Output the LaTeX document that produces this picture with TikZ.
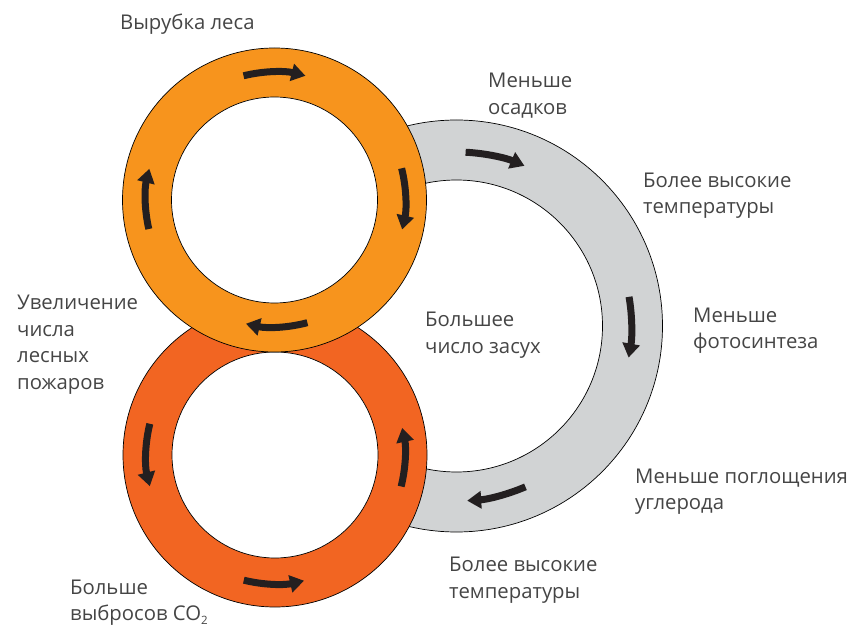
\documentclass[tikz,border=0pt]{standalone}
\usepackage{fontspec}
\setmainfont{Open Sans}
\usetikzlibrary{arrows.meta}
\definecolor{ringorange}{HTML}{F7941D}
\definecolor{ringred}{HTML}{F26522}
\definecolor{ringgray}{HTML}{D1D3D4}
\definecolor{txt}{HTML}{454545}
\definecolor{arr}{HTML}{231F20}
\begin{document}
\begin{tikzpicture}[x=1pt,y=1pt,
  ringline/.style={draw=black, line width=0.7pt},
  cyc/.style={draw=arr, line width=7pt, -{Triangle[width=17pt,length=14pt]}},
  lbl/.style={text=txt, font=\fontsize{20.3}{26.5}\selectfont, align=left, inner sep=0pt, anchor=base west}]
\useasboundingbox (0,0) rectangle (851,627);
\coordinate (G) at (456.5,301);
\coordinate (O) at (274.5,427);
\coordinate (R) at (275,172);
% gray ring
\fill[ringgray, even odd rule] (G) circle[radius=206pt] (G) circle[radius=146pt];
\draw[ringline] (G) circle[radius=206pt] (G) circle[radius=146pt];
% red ring
\filldraw[ringline, fill=ringred] (R) circle[radius=152pt];
\filldraw[ringline, fill=white] (R) circle[radius=103pt];
% orange ring
\filldraw[ringline, fill=ringorange] (O) circle[radius=152pt];
\filldraw[ringline, fill=white] (O) circle[radius=103pt];
% orange arrows (clockwise)
\draw[cyc] ([shift={(104:128pt)}]O) arc[start angle=104, end angle=76, radius=128pt];
\draw[cyc] ([shift={(14:131pt)}]O) arc[start angle=14, end angle=-13, radius=131pt];
\draw[cyc] ([shift={(-75:127pt)}]O) arc[start angle=-75, end angle=-103, radius=127pt];
\draw[cyc] ([shift={(193:129pt)}]O) arc[start angle=193, end angle=166, radius=129pt];
% red arrows (counterclockwise)
\draw[cyc] ([shift={(166:129pt)}]R) arc[start angle=166, end angle=194, radius=129pt];
\draw[cyc] ([shift={(-104:129pt)}]R) arc[start angle=-104, end angle=-77, radius=129pt];
\draw[cyc] ([shift={(-14:130pt)}]R) arc[start angle=-14, end angle=12, radius=130pt];
% gray arrows (clockwise)
\draw[cyc] ([shift={(87:174pt)}]G) arc[start angle=87, end angle=67, radius=174pt];
\draw[cyc] ([shift={(9.6:175pt)}]G) arc[start angle=9.6, end angle=-10.4, radius=175pt];
\draw[cyc] ([shift={(-66.8:175pt)}]G) arc[start angle=-66.8, end angle=-86.5, radius=175pt];
% labels (anchored at the baseline of the last line)
\node[lbl] (l1) at (120,597) {Вырубка леса};
\node[lbl] (l2) at (488,512.5) {Меньше\\осадков};
\node[lbl] (l3) at (643,413) {Более высокие\\температуры};
\node[lbl] (l4) at (693,278) {Меньше\\фотосинтеза};
\node[lbl] (l5) at (635,117.5) {Меньше поглощения\\углерода};
\node[lbl] (l6) at (449,29) {Более высокие\\температуры};
\node[lbl] (l7) at (17,237.5) {Увеличение\\числа\\лесных\\пожаров};
\node[lbl] (l8) at (425,273.5) {Большее\\число засух};
\node[lbl] (l9) at (70,6.5) {Больше\\выбросов CO\raisebox{-3.5pt}{\fontsize{11.5}{11.5}\selectfont 2}};
\end{tikzpicture}
\end{document}
